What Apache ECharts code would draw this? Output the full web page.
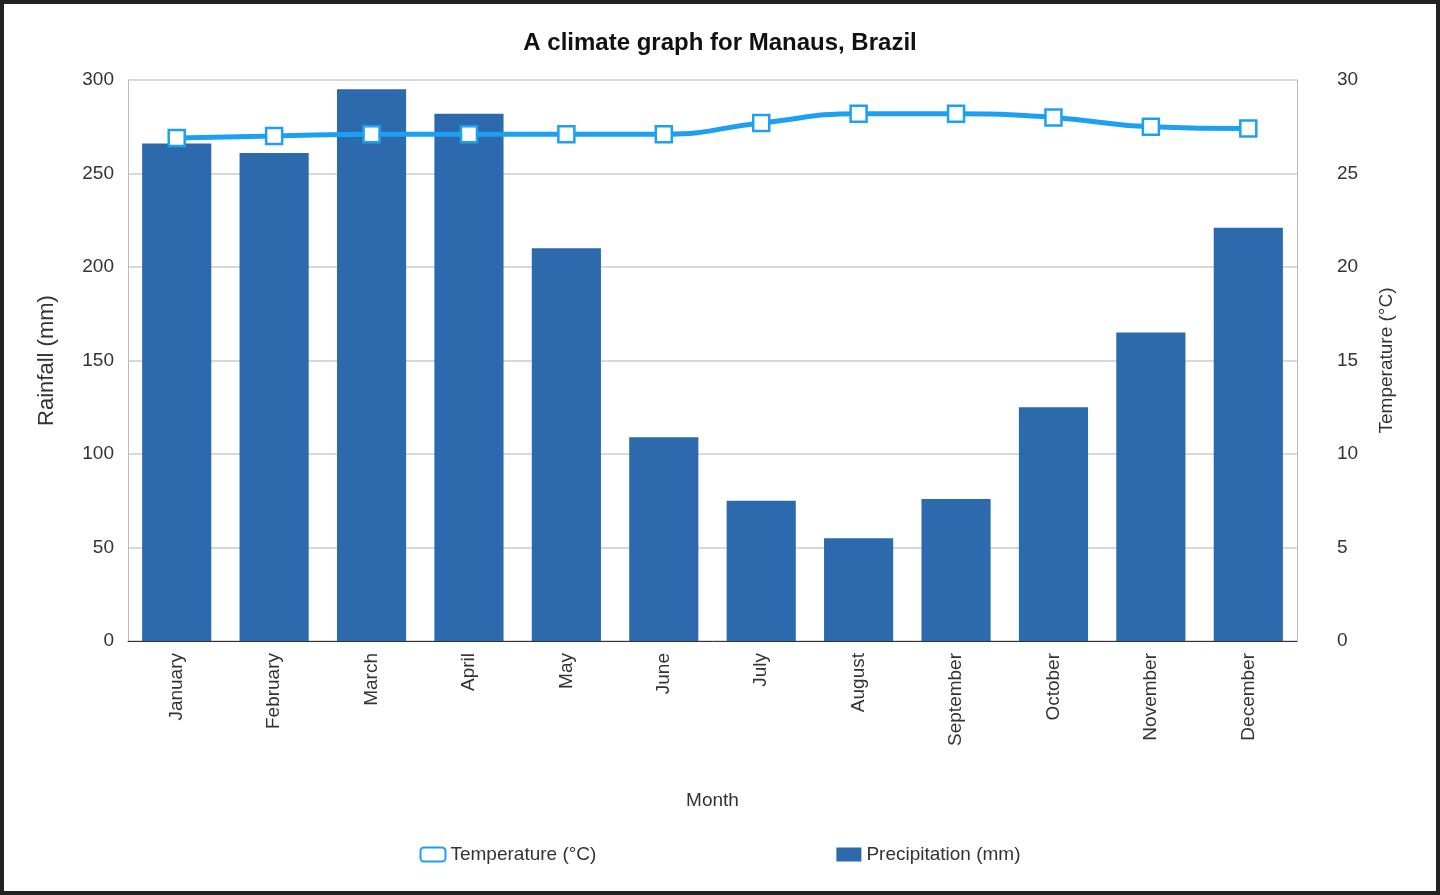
<!DOCTYPE html>
<html><head><meta charset="utf-8">
<script src="https://cdn.jsdelivr.net/npm/echarts@6/dist/echarts.min.js"></script>
<style>html,body{margin:0;padding:0;background:#fff}#c{width:1440px;height:895px;box-sizing:border-box;border:4px solid #222}</style>
</head><body><div id="c"></div>
<script>
const months=["January","February","March","April","May","June","July","August","September","October","November","December"];
const precipitation=[266,261,295,282,210,109,75,55,76,125,165,221];
const temperature=[26.9,27.0,27.1,27.1,27.1,27.1,27.7,28.2,28.2,28.0,27.5,27.4];
const chart=echarts.init(document.getElementById('c'));
const txt={color:'#333',fontFamily:'Liberation Sans',fontSize:19};
chart.setOption({
 animation:false,
 title:{text:'A climate graph for Manaus, Brazil',left:'center',top:22,textStyle:{fontFamily:'Liberation Sans',fontSize:24,fontWeight:'bold',color:'#111'}},
 grid:{left:124,right:139,top:76,bottom:250},
 legend:{bottom:22,itemGap:240,textStyle:txt,data:[{name:'Temperature (°C)',icon:'roundRect'},{name:'Precipitation (mm)',icon:'rect'}]},
 xAxis:{type:'category',data:months,name:'Month',nameLocation:'middle',nameGap:150,nameTextStyle:txt,
  axisTick:{show:false},axisLine:{lineStyle:{color:'#333'}},axisLabel:Object.assign({rotate:90,margin:12},txt)},
 yAxis:[
  {type:'value',min:0,max:300,interval:50,name:'Rainfall (mm)',nameLocation:'middle',nameGap:70,nameTextStyle:Object.assign({},txt,{fontSize:22}),
   axisLabel:Object.assign({margin:14},txt),axisLine:{show:true,lineStyle:{color:'#bbb'}},splitLine:{lineStyle:{color:'#ccc',width:1.5}}},
  {type:'value',min:0,max:30,interval:5,name:'Temperature (°C)',nameLocation:'middle',nameGap:80,nameTextStyle:txt,
   axisLabel:Object.assign({margin:40},txt),axisLine:{show:true,lineStyle:{color:'#bbb'}},splitLine:{show:false}}
 ],
 series:[
  {name:'Precipitation (mm)',type:'bar',data:precipitation,barWidth:'71%',itemStyle:{color:'#2c6aad'}},
  {name:'Temperature (°C)',type:'line',yAxisIndex:1,data:temperature,smooth:true,symbol:'rect',symbolSize:16,
   lineStyle:{color:'#1ea0f2',width:5},itemStyle:{color:'#fff',borderColor:'#1ea0f2',borderWidth:2.5}}
 ]
});
</script></body></html>
